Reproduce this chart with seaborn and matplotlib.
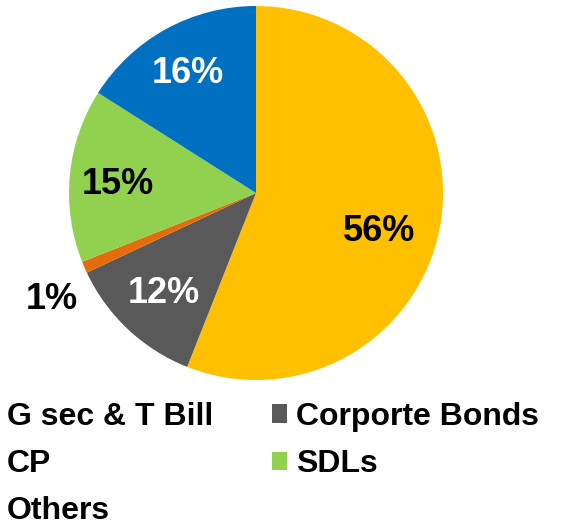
import matplotlib
matplotlib.use("Agg")
import matplotlib.pyplot as plt
import matplotlib.patches as mpatches
import seaborn as sns

# data
categories = ["G sec & T Bill", "Corporte Bonds", "CP", "SDLs", "Others"]
shares = [56, 12, 1, 15, 16]
colors = ["#FFC000", "#595959", "#E46C0A", "#92D050", "#0070C0"]
label_colors = ["black", "white", "black", "black", "white"]
# where each percentage label sits (pie radius = 1)
label_xy = [(0.660, -0.206), (-0.495, -0.537), (-1.094, -0.572),
            (-0.741, 0.043), (-0.366, 0.639)]

sns.set_theme(style="white")
plt.rcParams["font.family"] = ["Liberation Sans", "DejaVu Sans"]
plt.rcParams["font.weight"] = "bold"
plt.rcParams["text.color"] = "black"

fig = plt.figure(figsize=(5.61, 5.22), dpi=100)
ax = fig.add_axes([(256 - 187) / 561, (522 - 193 - 187) / 522, 374 / 561, 374 / 522])

wedges, texts, autotexts = ax.pie(
    shares, colors=sns.color_palette(colors), startangle=90, counterclock=False,
    autopct="%.0f%%", pctdistance=0.7, radius=1,
    wedgeprops=dict(linewidth=0),
    textprops=dict(fontsize=26, fontweight="bold"),
)
for t, c, xy in zip(autotexts, label_colors, label_xy):
    t.set_color(c)
    t.set_position(xy)

ax.set_xlim(-1, 1)
ax.set_ylim(-1, 1)
ax.set_aspect("equal")

# legend: two columns, row-major order like the original
order = [0, 2, 4, 1, 3]
handles = [mpatches.Patch(color=colors[i], linewidth=0) for i in order]
labels = [categories[i] for i in order]
fig.legend(handles, labels, ncol=2, loc="upper left",
           bbox_to_anchor=(-0.03, 0.23), bbox_transform=fig.transFigure,
           frameon=False, handlelength=0.47, handleheight=0.5,
           handletextpad=0.28, columnspacing=1.85, labelspacing=0.54,
           borderpad=0, borderaxespad=0, labelcolor="black",
           prop=dict(weight="bold", size=23))

fig.savefig("out.png", dpi=100)
